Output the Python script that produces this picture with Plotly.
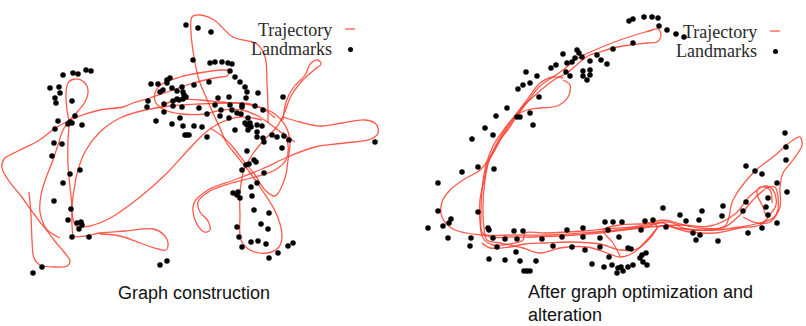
import plotly.graph_objects as go
from plotly.subplots import make_subplots

# ---------------- data (coordinates, pixel units, y downward) ----------------
# Left panel: "Graph construction"
left_traj_strokes = [
    [(29,192),(31,215),(32,240),(34,258),(40,265),(55,267),(67,266),(70,261),(64,252),(54,240),(45,227),(40,212),
     (41,195),(46,178),(53,160),(58,145),(63,130),(70,120),(78,111),(85,102),(88,90),(84,82),(75,79),(68,83),(66,95),
     (67,110),(69,122),(68,140),(68,165),(70,187),(72,207),(72,225),(74,236),(85,236),(100,233),(125,231),(153,229),
     (163,234),(168,243),(166,250),(158,249),(140,243),(120,236),(100,234)],
    [(60,238),(47,230),(34,214),(21,196),(9,181),(2,168),(4,159),(18,151),(38,141),(57,127),(77,117),(100,110),
     (123,107),(133,103),(150,98),(167,92),(187,85),(205,80),(220,77),(227,76),(229,71),(222,70),(205,72),(180,77),
     (162,84),(155,93),(156,103),(165,110),(182,114),(205,114),(222,110),(242,110),(258,116),(270,124),(282,133),(295,142)],
    [(262,120),(240,117),(220,123),(205,133),(190,148),(165,175),(140,197),(112,217),(90,226),(76,226),(72,212),
     (74,190),(78,170),(86,150),(100,132),(120,118),(145,110),(170,106),(200,104),(228,103),(250,104),(265,110),(275,118)],
    [(268,123),(268,108),(267,83),(265,57),(257,44),(233,37),(214,20),(200,15),(192,17),(191,32),(194,57),(199,80),
     (206,97),(213,113),(220,128),(226,142),(236,155),(248,170),(262,190),(276,213),(282,235),(279,247),(267,253),
     (250,250),(241,240),(240,215),(240,192),(244,170),(252,155),(264,140),(276,128),(284,114),(291,96),(302,81),
     (314,70),(321,64),(318,60),(311,63),(305,75),(293,88),(286,102),(283,120)],
    [(283,117),(300,122),(320,126),(342,123),(365,120),(376,124),(378,133),(371,139),(345,143),(315,147),(290,156),
     (262,169),(234,180),(208,190),(194,203),(195,220),(204,232),(210,230),(208,221),(200,212),(198,202),(210,191),
     (232,183),(255,177),(275,170),(286,160),(288,145),(283,132)],
    [(160,108),(175,100),(200,100),(220,102),(245,104),(262,108),(275,114),(285,125),(290,140),(288,160),(285,178),
     (275,196),(265,190),(255,175),(243,160),(232,146),(222,136),(210,128)],
]
left_lm_x = [186,198,211,193,210,215,222,228,232,230,235,240,245,247,258,246,283,263,255,242,218,229,
             63,73,78,86,91,50,59,60,55,56,72,75,70,72,68,58,82,55,54,62,52,80,70,63,54,71,68,77,81,82,79,72,89,
             42,33,160,167,151,158,167,170,167,163,160,172,177,182,183,184,186,148,147,164,173,177,179,183,173,182,
             164,156,172,180,183,194,202,185,187,189,207,194,209,199,207,215,221,220,230,232,229,237,242,241,248,
             245,247,250,251,257,262,235,248,257,263,257,272,277,284,289,282,264,375,247,254,256,249,246,242,264,
             251,257,233,238,237,240,252,254,269,261,268,237,239,251,258,266,242,288,293,278,269]
left_lm_y = [25,28,32,60,63,62,62,63,64,71,77,82,87,92,93,98,97,110,106,105,98,97,
             75,73,74,70,71,88,87,93,98,103,101,116,122,123,124,121,125,129,143,144,156,170,174,183,201,209,220,223,
             222,225,229,237,237,267,273,265,261,84,84,80,78,83,90,92,88,91,87,92,95,97,101,107,104,101,99,100,99,106,
             107,112,121,124,118,126,126,127,135,135,135,137,85,82,108,114,105,110,116,105,110,118,113,107,114,118,
             123,125,123,127,125,126,130,130,132,138,137,135,137,136,140,148,142,142,151,160,162,164,165,170,173,187,
             183,193,192,195,198,196,210,213,224,229,227,237,242,241,244,247,246,243,253,258]

# Right panel: "After graph optimization and alteration"
right_traj_strokes = [
    [(647,32),(658,29),(661,35),(657,42),(647,43),(630,45),(613,48),(600,52),(590,55),(580,62),(567,73),(557,78),
     (547,85),(533,97),(520,110),(510,127),(500,140),(490,157),(480,170),(463,180),(450,190),(442,202),(442,217),
     (453,229),(480,235),(517,235),(550,235),(583,233),(617,230),(640,227),(663,222),(673,223),(683,228),(707,230),
     (725,227),(740,215),(753,200),(767,188),(775,187),(778,197),(777,213),(770,222),(757,223),(743,217)],
    [(652,30),(620,40),(595,50),(578,58),(563,70),(553,77),(540,86),(528,101),(517,116),(505,132),(495,150),
     (488,163),(484,180),(480,200),(480,222),(483,238),(493,245),(510,244),(523,240),(525,233),(545,233),(583,231),
     (605,229),(640,226),(663,220),(680,224),(700,228),(725,226),(733,200),(753,173),(773,157),(793,140),(800,137),
     (802,145),(793,160),(783,173),(780,187),(780,207),(773,218),(760,223),(740,227),(717,230),(693,230),(673,227),
     (663,223),(653,225),(640,230)],
    [(563,80),(570,85),(568,97),(557,106),(540,108),(527,110),(517,115),(507,127),(497,143),(489,160),(485,180),
     (483,205),(484,228),(487,240),(500,243),(523,248),(540,253),(560,248),(587,247),(607,253),(620,257),(633,253),
     (645,242),(653,233),(657,227),(653,223),(640,224),(620,225),(603,230),(613,243),(620,256)],
    [(563,78),(553,77),(540,83),(527,100),(517,113),(505,128),(493,146),(486,165),(482,190),(481,215),(482,232),
     (490,237),(510,237),(530,237),(560,236),(600,233),(640,228),(680,225),(710,226),(735,214),(750,196),(765,186),
     (773,190),(776,205),(767,216),(763,207),(757,193),(760,187),(770,190),(772,203)],
    [(482,243),(490,248),(510,247),(525,244),(545,243),(570,242),(600,244),(620,250),(637,249),(652,236),(660,226),
     (690,232),(715,233),(740,228),(760,225),(770,215)],
]
right_lm_x = [629,633,644,652,658,659,667,676,684,633,613,563,577,579,575,582,572,567,597,590,601,607,
              556,551,566,570,583,590,583,590,587,526,537,530,523,518,539,507,530,520,517,496,533,485,493,472,
              478,494,462,438,478,438,451,449,443,428,448,471,470,488,489,493,505,497,517,514,523,516,489,505,
              520,536,524,527,530,542,553,562,567,572,583,583,585,592,600,600,605,613,622,608,619,609,604,612,
              618,621,623,628,633,628,631,640,642,646,643,647,641,645,653,617,663,666,680,686,693,696,700,699,
              702,718,722,723,746,755,762,746,743,748,762,766,768,768,777,777,787,786,786,785]
right_lm_y = [21,19,17,17,18,26,30,34,37,43,49,54,50,53,58,57,62,63,55,61,60,64,
              65,68,72,76,71,70,76,75,80,72,76,83,85,89,97,108,113,117,117,116,125,128,135,139,
              167,169,172,183,212,211,219,223,226,228,238,238,246,228,230,238,239,247,239,231,231,252,259,260,
              261,261,271,271,271,239,246,237,230,247,228,237,250,264,238,247,222,222,222,230,237,257,267,265,
              268,267,271,267,265,248,249,258,255,253,262,265,230,221,220,273,208,227,215,221,233,240,235,220,
              211,241,216,206,166,171,174,202,211,233,228,207,198,215,183,223,192,160,147,133]

legend_labels = ["Trajectory", "Landmarks"]
captions = ["Graph construction", "After graph optimization and<br>alteration"]

TRAJ_COLOR = "rgba(255,60,45,0.85)"
W, H = 806, 326
SPLIT = 400


def flatten(strokes):
    xs, ys = [], []
    for s in strokes:
        for (x, y) in s:
            xs.append(x)
            ys.append(y)
        xs.append(None)
        ys.append(None)
    return xs, ys


fig = make_subplots(rows=1, cols=2, horizontal_spacing=0)

for col, strokes, lx, ly in [(1, left_traj_strokes, left_lm_x, left_lm_y),
                             (2, right_traj_strokes, right_lm_x, right_lm_y)]:
    tx, ty = flatten(strokes)
    fig.add_trace(go.Scatter(x=tx, y=ty, mode="lines", connectgaps=False,
                             line=dict(color=TRAJ_COLOR, width=1.3, shape="spline", smoothing=1.0),
                             showlegend=False, hoverinfo="skip"), row=1, col=col)
    fig.add_trace(go.Scatter(x=lx, y=ly, mode="markers",
                             marker=dict(color="black", size=5.5, line=dict(width=0)),
                             showlegend=False, hoverinfo="skip"), row=1, col=col)

fig.update_xaxes(visible=False, showgrid=False, zeroline=False)
fig.update_yaxes(visible=False, showgrid=False, zeroline=False)
fig.update_layout(
    xaxis=dict(domain=[0, SPLIT / W], range=[0, SPLIT]),
    xaxis2=dict(domain=[SPLIT / W, 1], range=[SPLIT, W]),
    yaxis=dict(domain=[0, 1], range=[H, 0]),
    yaxis2=dict(domain=[0, 1], range=[H, 0]),
    width=W, height=H, margin=dict(l=0, r=0, t=0, b=0),
    paper_bgcolor="white", plot_bgcolor="white", showlegend=False,
)

serif = dict(family="Liberation Serif, Times New Roman, serif", size=18, color="#2a2a2a")
anns = []
shapes = []
for xr, yr, right_edge, y1, y2 in [("x", "y", 333, 30, 49), ("x2", "y2", 758, 32, 51)]:
    anns.append(dict(x=right_edge, y=y1, xref=xr, yref=yr, text=legend_labels[0], showarrow=False,
                     xanchor="right", yanchor="middle", font=serif, borderpad=0))
    anns.append(dict(x=right_edge, y=y2, xref=xr, yref=yr, text=legend_labels[1], showarrow=False,
                     xanchor="right", yanchor="middle", font=serif, borderpad=0))
    shapes.append(dict(type="line", xref=xr, yref=yr, x0=right_edge + 12, x1=right_edge + 22,
                       y0=y1 - 1, y1=y1 - 1, line=dict(color=TRAJ_COLOR, width=1.3)))
    shapes.append(dict(type="circle", xref=xr, yref=yr, x0=right_edge + 15, x1=right_edge + 20,
                       y0=y2 - 2, y1=y2 + 3, fillcolor="black", line=dict(width=0)))

sans = dict(family="Liberation Sans, Arial, sans-serif", size=18, color="#111")
anns.append(dict(x=117 / W, y=1 - 293 / H, xref="paper", yref="paper", text=captions[0], showarrow=False,
                 xanchor="left", yanchor="middle", font=sans, borderpad=0))
anns.append(dict(x=527 / W, y=0, xref="paper", yref="paper", text=captions[1], showarrow=False,
                 xanchor="left", yanchor="bottom", align="left", font=sans, borderpad=0))
fig.update_layout(annotations=anns, shapes=shapes)

fig.write_html("out.html")
